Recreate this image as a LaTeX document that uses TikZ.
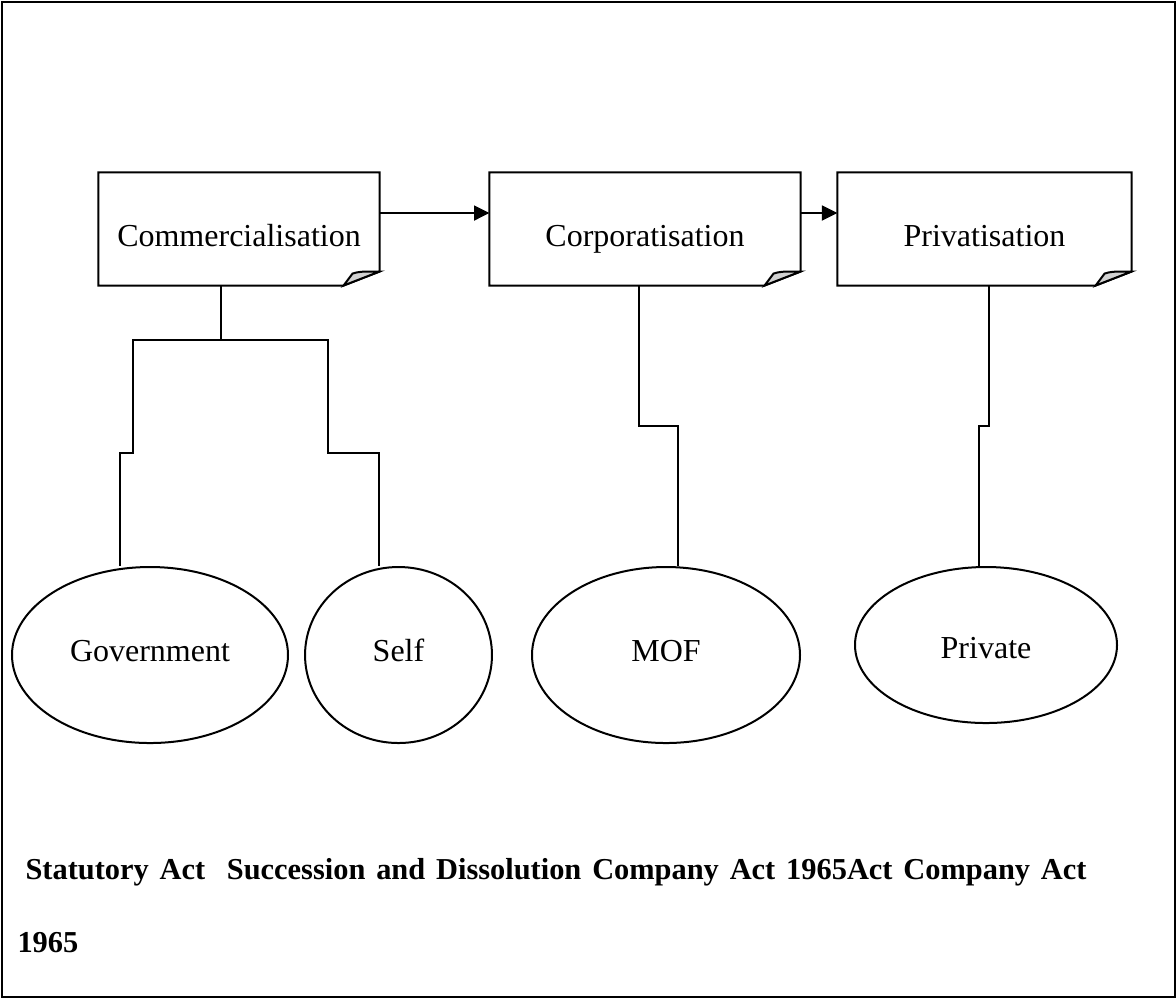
\documentclass[tikz,border=0pt]{standalone}
\usepackage{fontspec}
\setmainfont{Liberation Serif}
\usetikzlibrary{shapes.geometric,arrows.meta}

\tikzset{
  edge/.style={line width=0.75pt},
  stage/.style={rectangle, minimum width=#1, minimum height=42pt, inner sep=0pt,
    text height=14pt, text depth=1.25pt, font=\fontsize{12}{14}\selectfont},
  owner/.style={ellipse, draw, line width=0.75pt, inner sep=0pt,
    text height=9pt, text depth=4pt, font=\fontsize{12}{14}\selectfont},
  flow/.style={edge, -{Triangle[length=5.8pt,width=5.6pt]}},
}

\begin{document}
\begin{tikzpicture}[x=0.375pt, y=-0.375pt]
\useasboundingbox (0,0) rectangle (1176,999);
\draw[edge] (2,2) rectangle (1175,997);

% stages
\node[stage=105pt] (comm) at (239,229) {Commercialisation};
\node[stage=116.25pt] (corp) at (645,229) {Corporatisation};
\node[stage=109.9pt] (priv) at (984.5,229) {Privatisation};
\foreach \n in {comm,corp,priv} {
  \draw[edge] (\n.north west) -- (\n.north east) -- ([shift={(0,-14)}]\n.south east)
    -- ([shift={(-36,0)}]\n.south east) -- (\n.south west) -- cycle;
  \filldraw[edge, fill=gray!35] ([shift={(-36,0)}]\n.south east) -- ([shift={(-27,-12)}]\n.south east)
    .. controls ([shift={(-20,-14)}]\n.south east) .. ([shift={(0,-14)}]\n.south east) -- cycle;
}
\draw[flow] ([yshift=6pt]comm.east) -- ([yshift=6pt]corp.west);
\draw[flow] ([yshift=6pt]corp.east) -- ([yshift=6pt]priv.west);

% owners
\node[owner, minimum width=103.5pt, minimum height=66pt] (gov) at (150,655) {Government};
\node[owner, minimum width=70.1pt, minimum height=66pt] (self) at (398.5,655) {Self};
\node[owner, minimum width=100.5pt, minimum height=66pt] (mof) at (666,655) {MOF};
\node[owner, minimum width=98.25pt, minimum height=58.5pt, text height=12pt, text depth=2.2pt] (private) at (986,645) {Private};

% links
\coordinate (cj) at (221,340);
\coordinate (gl) at (133,340);
\coordinate (sl) at (328,340);
\coordinate (gd) at (120,453);
\coordinate (sd) at (379,453);
\coordinate (mj) at (639,426);
\coordinate (md) at (678,426);
\coordinate (pj) at (989,426);
\coordinate (pd) at (979,426);
\draw[edge] (comm.south -| cj) -- (cj);
\draw[edge] (gov.north -| gd) -- (gd) -| (gl) -- (sl) |- (sd) -- (sd |- self.north);
\draw[edge] (corp.south -| mj) -- (mj) -- (md) -- (md |- mof.north);
\draw[edge] (priv.south -| pj) -- (pj) -- (pd) -- (pd |- private.north);

% acts
\node[anchor=north west, inner sep=0pt, text width=400.9pt, align=justify,
  font=\bfseries\fontsize{11.4}{27.4}\selectfont] (acts) at (17,858)
  {\hspace*{3pt}Statutory Act\ \ Succession and Dissolution Company Act 1965Act Company Act\linebreak 1965};
\end{tikzpicture}
\end{document}
